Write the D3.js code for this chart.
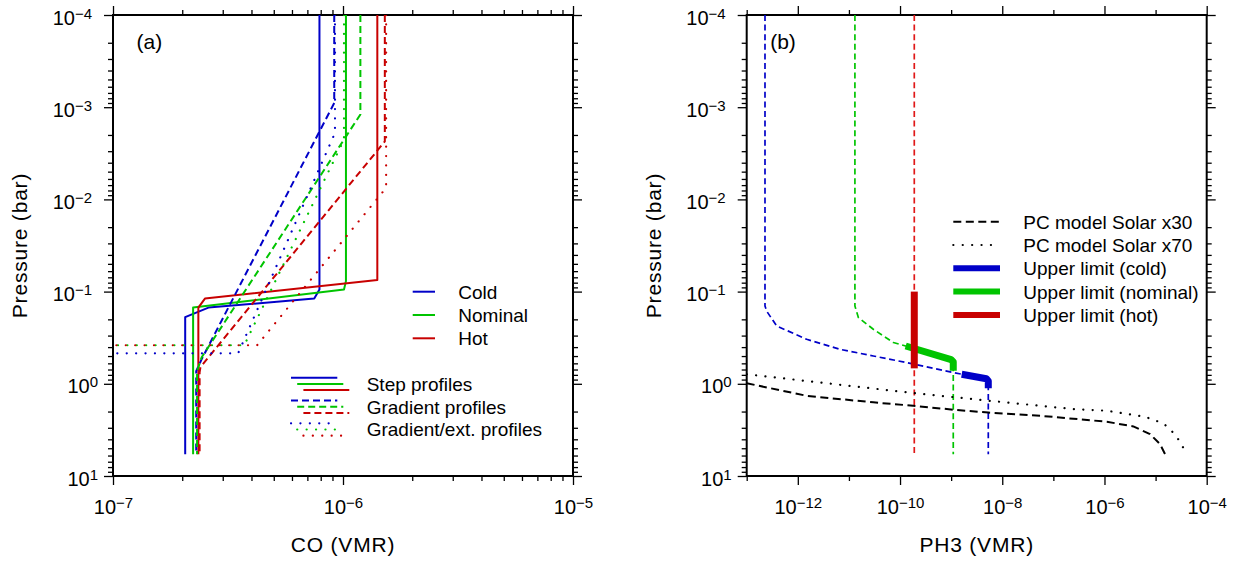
<!DOCTYPE html>
<html lang="en">
  <head>
    <meta charset="UTF-8" />
    <title>CO and PH3 profiles</title>
    <script src="https://cdn.jsdelivr.net/npm/d3@7"></script>
    <style>
      body { margin: 0; background: #fff; }
      svg text { font-family: 'Liberation Sans', Arial, Helvetica, sans-serif; fill: #000; }
    </style>
  </head>
  <body>
    <svg width="1247" height="561"></svg>
  <script>
    // tick labels
    var pressureTicks = [1e-4, 1e-3, 1e-2, 1e-1, 1, 10];
    var coTicks = [1e-7, 1e-6, 1e-5];
    var ph3Ticks = [1e-12, 1e-10, 1e-8, 1e-6, 1e-4];

    // panel (a): CO profiles, [vmr, pressure in bar]
    var coColdStep = [[7.9e-7, 1e-4], [7.9e-7, 0.095], [7.5e-7, 0.119], [2.6e-7, 0.149], [2.06e-7, 0.189], [2.06e-7, 5.8]];
    var coNomStep = [[1.03e-6, 1e-4], [1.03e-6, 0.077], [1.01e-6, 0.095], [2.23e-7, 0.149], [2.23e-7, 5.8]];
    var coHotStep = [[1.41e-6, 1e-4], [1.41e-6, 0.075], [2.51e-7, 0.119], [2.35e-7, 0.149], [2.35e-7, 5.8]];

    var coColdGrad = [[9.16e-7, 1e-4], [9.16e-7, 9.0e-4], [2.43e-7, 0.54], [2.30e-7, 0.73], [2.30e-7, 5.8]];
    var coNomGrad = [[1.19e-6, 1e-4], [1.19e-6, 1.2e-3], [2.43e-7, 0.515], [2.32e-7, 0.73], [2.32e-7, 5.8]];
    var coHotGrad = [[1.52e-6, 1e-4], [1.52e-6, 2.35e-3], [2.40e-7, 0.66], [2.38e-7, 0.75], [2.38e-7, 5.8]];

    var coColdExt = [[9.23e-7, 1e-4], [9.23e-7, 1.9e-3], [3.5e-7, 0.467], [1e-9, 0.467]];
    var coNomExt = [[1.01e-6, 1e-4], [1.01e-6, 2.25e-3], [3.72e-7, 0.382], [1e-9, 0.382]];
    var coHotExt = [[1.54e-6, 1e-4], [1.54e-6, 7.5e-3], [4.23e-7, 0.382], [1e-9, 0.382]];

    // panel (b): PH3 profiles and upper limits
    var phColdProfile = [[2.28e-13, 1e-4], [2.28e-13, 0.1436], [2.46e-13, 0.163], [3.86e-13, 0.236], [1.49e-12, 0.329],
      [6.7e-12, 0.423], [3.0e-11, 0.499], [1.35e-10, 0.589], [1.1e-9, 0.755], [1.61e-9, 0.787], [4.9e-9, 0.88],
      [5.33e-9, 0.93], [5.33e-9, 5.8]];
    var phNomProfile = [[1.31e-11, 1e-4], [1.31e-11, 0.1436], [1.53e-11, 0.191], [3.0e-11, 0.256], [7.4e-11, 0.357],
      [1.29e-10, 0.389], [1.0e-9, 0.548], [1.1e-9, 0.58], [1.1e-9, 5.8]];
    var phHotProfile = [[1.9e-10, 1e-4], [1.9e-10, 5.8]];

    var phColdLimit = [[1.61e-9, 0.787], [4.9e-9, 0.88], [5.33e-9, 0.93], [5.33e-9, 1.12]];
    var phNomLimit = [[1.29e-10, 0.389], [1.0e-9, 0.548], [1.1e-9, 0.58], [1.1e-9, 0.72]];
    var phHotLimit = [[1.9e-10, 0.1], [1.9e-10, 0.68]];

    var pcSolar30 = [[1e-13, 0.986], [1.49e-12, 1.35], [3.0e-11, 1.59], [1.82e-10, 1.73], [1.1e-9, 1.91], [5.33e-9, 2.05],
      [5.48e-8, 2.22], [1.11e-6, 2.58], [3.66e-6, 2.90], [7.78e-6, 3.51], [1.22e-5, 4.51], [1.53e-5, 5.78]];
    var pcSolar70 = [[1e-13, 0.787], [1.82e-10, 1.26], [5.75e-9, 1.53], [2.45e-7, 1.88], [1.11e-6, 1.96], [6.21e-6, 2.28],
      [1.42e-5, 2.69], [1.91e-5, 3.10], [2.59e-5, 3.76], [3.24e-5, 4.58], [3.94e-5, 5.64]];

    var blue = '#0000c8', green = '#00c400', red = '#c80000', redThin = '#e01818';

    var svg = d3.select('svg');
    var plotTop = 15, plotBottom = 476, plotW = 460;

    function expo(v) { return Math.round(Math.log10(v)); }
    function isPow(v) { var e = Math.log10(v); return Math.abs(e - Math.round(e)) < 1e-6; }

    // writes 10^n with a raised exponent
    function powLabel(t, v) {
      var e = expo(v);
      t.append('tspan').text('10');
      t.append('tspan').attr('dy', -6).attr('font-size', 15).text(e < 0 ? '\u2212' + (-e) : '' + e);
    }

    function makePanel(id, left, xDomain, xVals, xMajor, xLabels, xTitle, tag) {
      var x = d3.scaleLog().domain(xDomain).range([left, left + plotW]);
      var y = d3.scaleLog().domain([1e-4, 10]).range([plotTop, plotBottom]);
      var g = svg.append('g');

      g.append('clipPath').attr('id', 'clip' + id)
        .append('rect').attr('x', left).attr('y', plotTop).attr('width', plotW).attr('height', plotBottom - plotTop);

      var yVals = y.ticks();
      function styleTicks(sel, attr, sign, majorFn) {
        sel.select('.domain').remove();
        sel.selectAll('.tick line')
          .attr(attr, function (d) { return sign * (majorFn(d) ? 9 : 5); })
          .attr('stroke-width', 1.3);
      }

      var bottom = g.append('g').attr('transform', 'translate(0,' + plotBottom + ')')
        .call(d3.axisBottom(x).tickValues(xVals).tickFormat('').tickSizeOuter(0));
      styleTicks(bottom, 'y2', 1, xMajor);
      var topAx = g.append('g').attr('transform', 'translate(0,' + plotTop + ')')
        .call(d3.axisTop(x).tickValues(xVals).tickFormat('').tickSizeOuter(0));
      styleTicks(topAx, 'y2', -1, xMajor);
      var leftAx = g.append('g').attr('transform', 'translate(' + left + ',0)')
        .call(d3.axisLeft(y).tickValues(yVals).tickFormat('').tickSizeOuter(0));
      styleTicks(leftAx, 'x2', -1, isPow);
      var rightAx = g.append('g').attr('transform', 'translate(' + (left + plotW) + ',0)')
        .call(d3.axisRight(y).tickValues(yVals).tickFormat('').tickSizeOuter(0));
      styleTicks(rightAx, 'x2', 1, isPow);

      // tick labels
      bottom.selectAll('.tick').filter(function (d) {
        return xLabels.some(function (v) { return Math.abs(Math.log10(v) - Math.log10(d)) < 1e-6; });
      }).each(function (d) {
        var t = d3.select(this).append('text').attr('x', 0).attr('y', 37.5)
          .attr('text-anchor', 'middle').attr('font-size', 20).attr('fill', '#000');
        powLabel(t, d);
      });
      leftAx.selectAll('.tick').filter(function (d) {
        return pressureTicks.some(function (v) { return Math.abs(Math.log10(v) - Math.log10(d)) < 1e-6; });
      }).each(function (d) {
        var t = d3.select(this).append('text').attr('x', expo(d) < 0 ? -21 : -15).attr('y', 9)
          .attr('text-anchor', 'end').attr('font-size', 20).attr('fill', '#000');
        powLabel(t, d);
      });

      // frame
      g.append('rect').attr('x', left).attr('y', plotTop).attr('width', plotW).attr('height', plotBottom - plotTop)
        .attr('fill', 'none').attr('stroke', '#000').attr('stroke-width', 2);

      // axis titles
      g.append('text').attr('x', left + plotW / 2).attr('y', 552).attr('text-anchor', 'middle')
        .attr('font-size', 21).attr('letter-spacing', 0.8).text(xTitle);
      g.append('text').attr('transform', 'translate(' + (left - 86) + ',' + (plotTop + plotBottom) / 2 + ') rotate(-90)')
        .attr('text-anchor', 'middle').attr('font-size', 21).attr('letter-spacing', 0.8).text('Pressure (bar)');
      g.append('text').attr('x', left + 23.5).attr('y', 48.5).attr('font-size', 21).text(tag);

      var line = d3.line().x(function (d) { return x(d[0]); }).y(function (d) { return y(d[1]); });
      var marks = g.append('g').attr('clip-path', 'url(#clip' + id + ')');
      return { x: x, y: y, g: g, marks: marks, line: line };
    }

    function drawLine(p, data, color, width, dash, cap) {
      p.marks.append('path').datum(data)
        .attr('d', p.line)
        .attr('fill', 'none')
        .attr('stroke', color)
        .attr('stroke-width', width)
        .attr('stroke-dasharray', dash || null)
        .attr('stroke-linecap', cap || 'butt')
        .attr('stroke-linejoin', 'round');
    }

    var dashA = '7,4', dotA = '0.1,9.3';

    // ---------- panel (a) ----------
    var pa = makePanel('a', 113, [1e-7, 1e-5], d3.scaleLog().domain([1e-7, 1e-5]).ticks(), isPow, coTicks, 'CO (VMR)', '(a)');
    drawLine(pa, coColdStep, blue, 2);
    drawLine(pa, coNomStep, green, 2);
    drawLine(pa, coHotStep, red, 2);
    drawLine(pa, coColdGrad, blue, 2, dashA);
    drawLine(pa, coNomGrad, green, 2, dashA);
    drawLine(pa, coHotGrad, red, 2, dashA);
    drawLine(pa, coColdExt, blue, 2.2, dotA, 'round');
    drawLine(pa, coNomExt, green, 2.2, dotA, 'round');
    drawLine(pa, coHotExt, red, 2.2, dotA, 'round');

    // legend (a)
    var legA = pa.g.append('g');
    [['Cold', blue], ['Nominal', green], ['Hot', red]].forEach(function (d, i) {
      var ly = 291.7 + i * 23.3;
      legA.append('line').attr('x1', 412.7).attr('x2', 435).attr('y1', ly).attr('y2', ly)
        .attr('stroke', d[1]).attr('stroke-width', 2);
      legA.append('text').attr('x', 458.3).attr('y', ly + 7).attr('font-size', 19).text(d[0]);
    });
    [['Step profiles', null, 2, 'butt'], ['Gradient profiles', dashA, 2, 'butt'], ['Gradient/ext. profiles', dotA, 2.2, 'round']]
      .forEach(function (d, i) {
        var base = 377.7 + i * 22.8;
        [blue, green, red].forEach(function (c, j) {
          legA.append('line').attr('x1', 291 + j * 6.2).attr('x2', 337.3 + j * 6).attr('y1', base + j * 6.2).attr('y2', base + j * 6.2)
            .attr('stroke', c).attr('stroke-width', d[2]).attr('stroke-dasharray', d[1]).attr('stroke-linecap', d[3]);
        });
        legA.append('text').attr('x', 366.7).attr('y', base + 13).attr('font-size', 19).text(d[0]);
      });

    // ---------- panel (b) ----------
    var phVals = d3.range(-13, -3).map(function (e) { return +('1e' + e); });
    var pb = makePanel('b', 746.7, [1e-13, 1e-4], phVals, function (d) { return expo(d) % 2 === 0; }, ph3Ticks, 'PH3 (VMR)', '(b)');
    var dashB = '6,3.6';
    drawLine(pb, phColdProfile, blue, 1.7, dashB);
    drawLine(pb, phNomProfile, green, 1.7, dashB);
    drawLine(pb, phHotProfile, redThin, 1.7, dashB);
    drawLine(pb, pcSolar30, '#000', 2, '8,4.5');
    drawLine(pb, pcSolar70, '#000', 2.2, dotA, 'round');
    drawLine(pb, phColdLimit, blue, 7);
    drawLine(pb, phNomLimit, green, 7);
    drawLine(pb, phHotLimit, red, 7);

    // legend (b)
    var legB = pb.g.append('g');
    [['PC model Solar x30', '#000', 2, '8,4.5', 'butt'], ['PC model Solar x70', '#000', 2.2, dotA, 'round'],
     ['Upper limit (cold)', blue, 6, null, 'butt'], ['Upper limit (nominal)', green, 6, null, 'butt'],
     ['Upper limit (hot)', red, 6, null, 'butt']].forEach(function (d, i) {
      var ly = 221.7 + i * 23.3;
      legB.append('line').attr('x1', 953.3).attr('x2', 1000).attr('y1', ly).attr('y2', ly)
        .attr('stroke', d[1]).attr('stroke-width', d[2]).attr('stroke-dasharray', d[3]).attr('stroke-linecap', d[4]);
      legB.append('text').attr('x', 1023.3).attr('y', ly + 7).attr('font-size', 19).text(d[0]);
    });
  </script>
  </body>
</html>
